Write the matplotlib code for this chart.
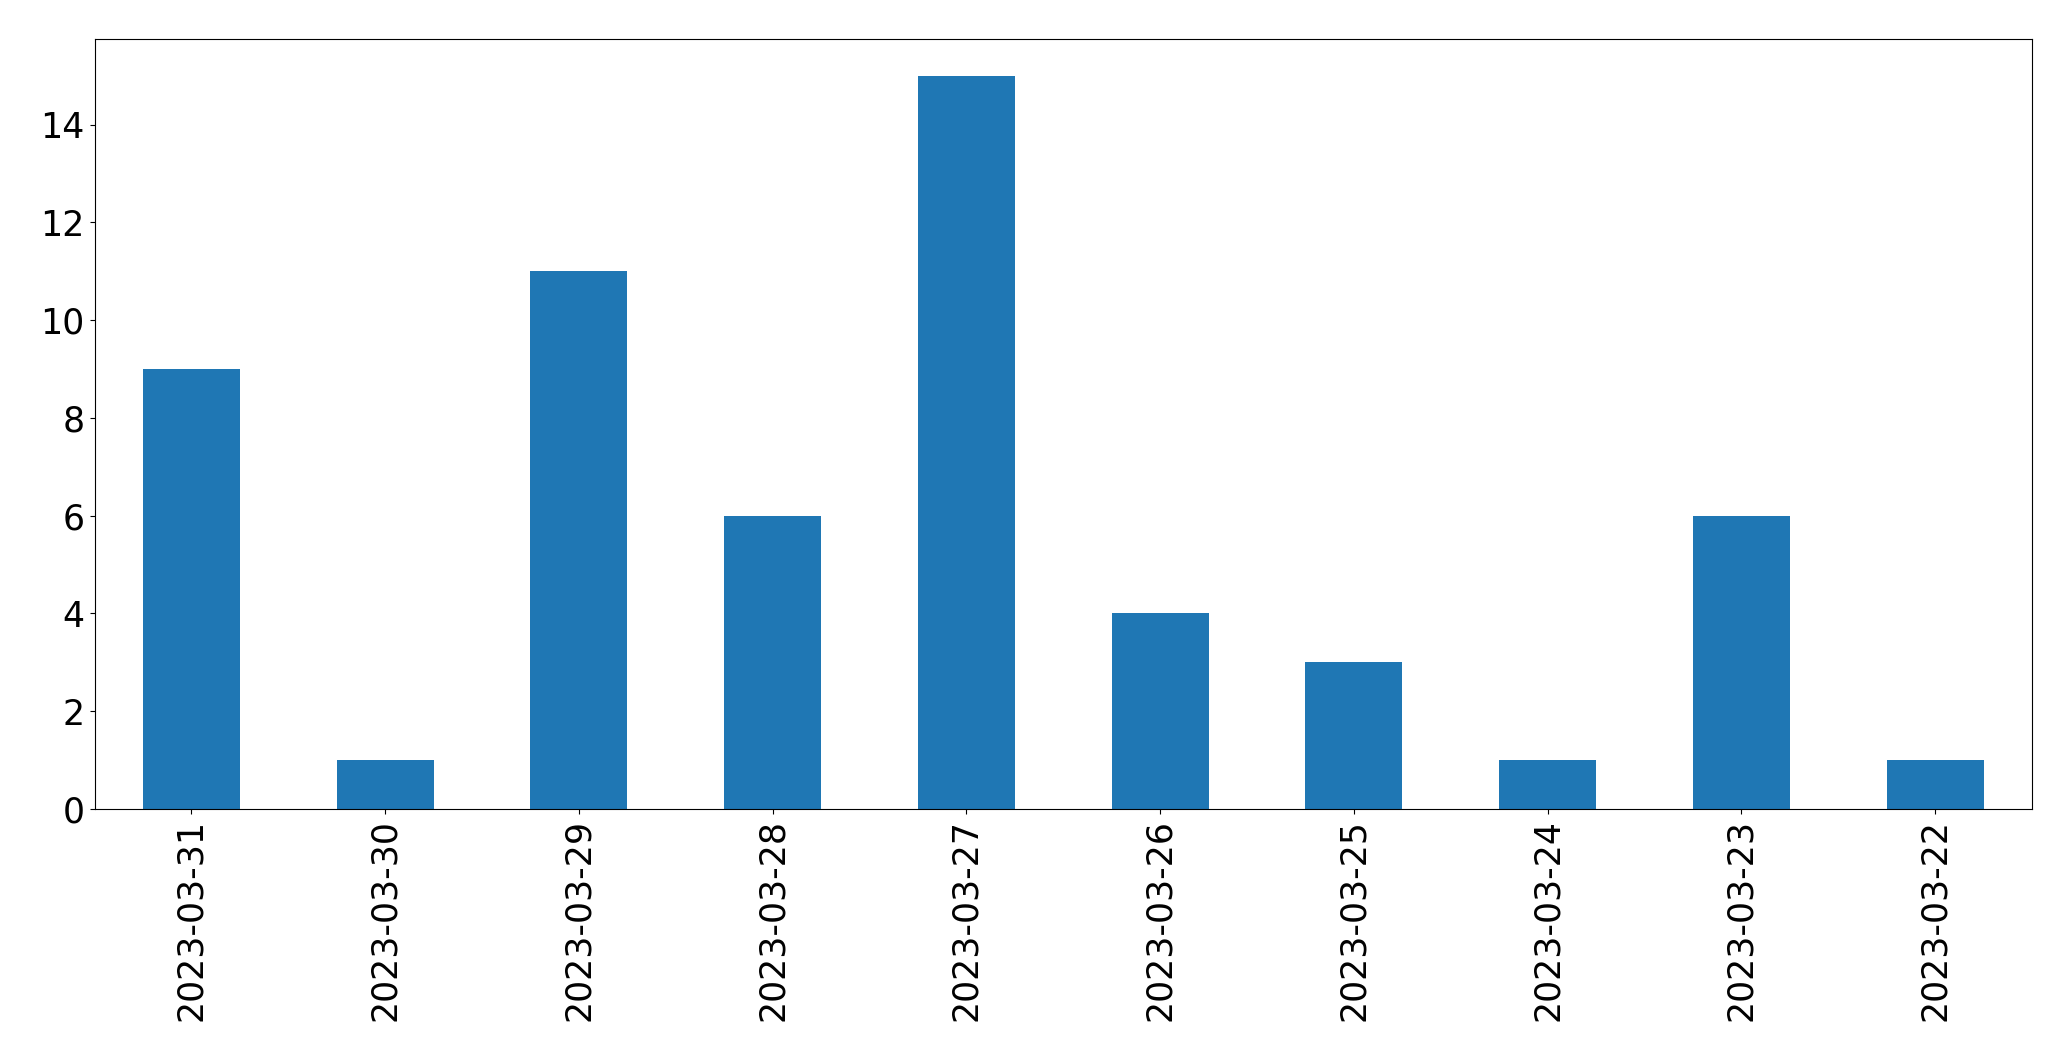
import matplotlib
matplotlib.use("Agg")
import matplotlib.pyplot as plt

dates = ["2023-03-31", "2023-03-30", "2023-03-29", "2023-03-28", "2023-03-27",
         "2023-03-26", "2023-03-25", "2023-03-24", "2023-03-23", "2023-03-22"]
counts = [9, 1, 11, 6, 15, 4, 3, 1, 6, 1]

fig = plt.figure(figsize=(20.71, 10.61), dpi=100)
ax = fig.add_axes([94.5 / 2071, 1 - 809 / 1061, (2032 - 94.5) / 2071, (809 - 39) / 1061])
x = list(range(len(dates)))
ax.bar(x, counts, width=0.5, color="#1f77b4")
ax.set_xlim(-0.5, len(dates) - 0.5)
ax.set_xticks(x)
ax.set_xticklabels(dates, rotation=90)
ax.tick_params(labelsize=25)
fig.savefig("out.png", dpi=100)
